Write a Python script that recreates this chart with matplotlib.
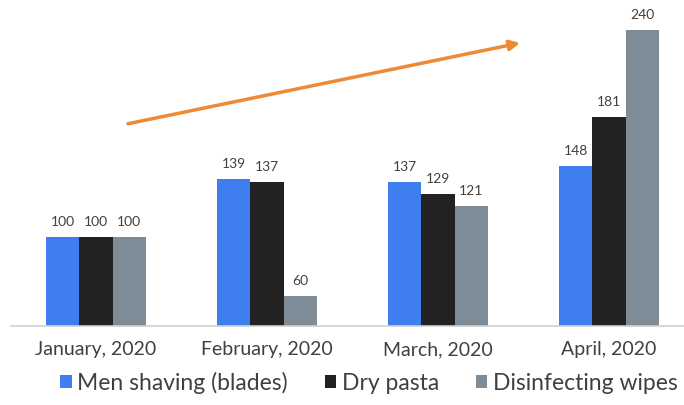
import numpy as np
import matplotlib
matplotlib.use('Agg')
import matplotlib.pyplot as plt

months = ['January, 2020', 'February, 2020', 'March, 2020', 'April, 2020']
series_names = ['Men shaving (blades)', 'Dry pasta', 'Disinfecting wipes']
shaving = [100, 139, 137, 148]
pasta = [100, 137, 129, 181]
wipes = [100, 60, 121, 240]
colors = ['#3F7EEF', '#222222', '#7E8C98']

plt.rcParams['font.family'] = ['Lato', 'DejaVu Sans']

fig = plt.figure(figsize=(6.84, 4.05), dpi=100)
ax = fig.add_axes([10.5 / 684, 1 - 326 / 405, 684 / 684, 326 / 405])

x = np.arange(len(months))
w = 0.193
for i, (vals, name) in enumerate(zip([shaving, pasta, wipes], series_names)):
    pos = x + (i - 1) * w
    ax.bar(pos, vals, width=w, color=colors[i], label=name)
    for p, v in zip(pos, vals):
        ax.text(p, v + 6, str(v), ha='center', va='bottom', fontsize=10, color='#404040')

ax.set_xlim(-0.5, 3.5)
ax.set_ylim(40, 260)
ax.set_yticks([])
ax.set_xticks(x)
ax.set_xticklabels(months, fontsize=14, color='#404040')
ax.tick_params(axis='x', length=0, pad=11)
for s in ['top', 'right', 'left']:
    ax.spines[s].set_visible(False)
ax.spines['bottom'].set_color('#d0d0d0')
ax.spines['bottom'].set_linewidth(1.2)

# trend arrow
ax.annotate('', xy=(2.48, 231), xytext=(0.187, 176.5),
            arrowprops=dict(arrowstyle='-|>,head_length=0.6,head_width=0.3',
                            color='#EE8A35', lw=2.5, shrinkA=0, shrinkB=0))

leg = fig.legend(loc='center', bbox_to_anchor=(369 / 684, 1 - 383 / 405), ncol=3,
                 frameon=False, fontsize=16.5, handlelength=0.5, handleheight=0.5,
                 handletextpad=0.25, columnspacing=1.6)
for t in leg.get_texts():
    t.set_color('#404040')

fig.savefig('out.png', dpi=100)
